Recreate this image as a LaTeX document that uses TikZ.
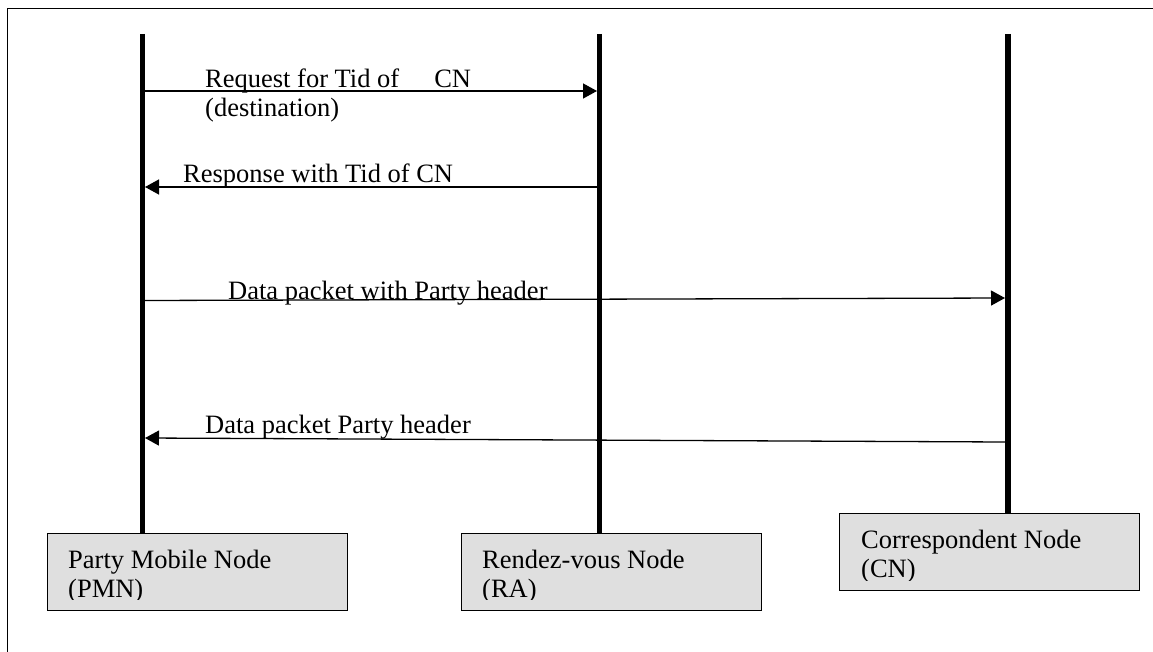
\documentclass[tikz,border=0pt]{standalone}
\usepackage{fontspec}
\setmainfont{Liberation Serif}
\usetikzlibrary{arrows.meta}
\definecolor{boxgray}{RGB}{223,223,223}
\begin{document}
\begin{tikzpicture}[x=1pt,y=-1pt,
  lifeline/.style={line width=5.5pt},
  msg/.style={line width=1.3pt,-{Triangle[length=14pt,width=15pt]}},
  box/.style={draw,line width=1.3pt,fill=boxgray,minimum width=300pt,minimum height=77pt,inner sep=0pt,anchor=north west},
  lbl/.style={font=\fontsize{26.5}{29}\selectfont,inner sep=0pt,anchor=base west,align=left},
]
\useasboundingbox (0,0) rectangle (1153,652);
\draw[line width=1pt] (7,652) -- (7,9) -- (1153,9);

% boxes
\node[box] (pmnBox) at (47,533) {};
\node[box] (raBox) at (461,533) {};
\node[box] (cnBox) at (839,513) {};

% box labels (anchor = baseline of the last line)
\begin{scope}
\clip (47,533) rectangle (347,599);
\node[lbl] (pmnLbl) at (68,597) {Party Mobile Node\\(PMN)};
\end{scope}
\begin{scope}
\clip (461,533) rectangle (759,599);
\node[lbl] (raLbl) at (482,597) {Rendez-vous Node\\(RA)};
\end{scope}
\begin{scope}
\clip (839,513) rectangle (1139,580);
\node[lbl] (cnLbl) at (861,577) {Correspondent Node\\(CN)};
\end{scope}

% lifelines
\coordinate (pmnTop) at (142.5,34);
\coordinate (raTop) at (599.5,34);
\coordinate (cnTop) at (1008,34);
\draw[lifeline] (pmnTop) -- (pmnTop |- pmnBox.north);
\draw[lifeline] (raTop) -- (raTop |- raBox.north);
\draw[lifeline] (cnTop) -- (cnTop |- cnBox.north);

% messages
\coordinate (m1a) at (145,91);
\coordinate (m1b) at (597,91);
\coordinate (m2a) at (597,187);
\coordinate (m2b) at (145,187);
\coordinate (m3a) at (145,300.5);
\coordinate (m3b) at (1005,298);
\coordinate (m4a) at (1005,442);
\coordinate (m4b) at (145,438);
\draw[msg] (m1a) -- (m1b);
\draw[msg] (m2a) -- (m2b);
\draw[msg] (m3a) -- (m3b);
\draw[msg] (m4a) -- (m4b);

\node[lbl] (m1lbl) at (205,117) {Request for Tid of\hspace{35pt}CN\\(destination)};
\node[lbl] (m2lbl) at (183,183) {Response with Tid of CN};
\node[lbl] (m3lbl) at (228,299) {Data packet with Party header};
\node[lbl] (m4lbl) at (205,433) {Data packet Party header};
\end{tikzpicture}
\end{document}
